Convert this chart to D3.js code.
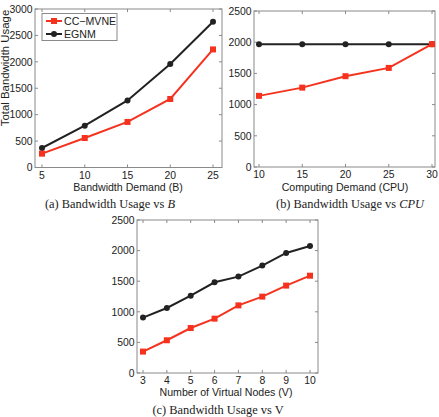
<!DOCTYPE html>
<html><head><meta charset="utf-8">
<script src="https://cdn.jsdelivr.net/npm/d3@7"></script>
<style>body{margin:0;background:#fff}svg{display:block}</style>
</head><body>
<svg id="chart" width="439" height="417"></svg>
<script>
// ---- data ----
const seriesNames = ["CC\u2212MVNE", "EGNM"];
const bwDemand = [5, 10, 15, 20, 25];
const bwCC = [262, 558, 862, 1297, 2235];
const bwEGNM = [369, 792, 1270, 1958, 2760];
const cpuDemand = [10, 15, 20, 25, 30];
const cpuCC = [1140, 1272, 1455, 1588, 1968];
const cpuEGNM = [1968, 1968, 1968, 1968, 1968];
const vNodes = [3, 4, 5, 6, 7, 8, 9, 10];
const vCC = [350, 535, 735, 888, 1105, 1248, 1428, 1590];
const vEGNM = [905, 1062, 1264, 1482, 1575, 1755, 1962, 2075];
const yTicksA = [0, 500, 1000, 1500, 2000, 2500, 3000];
const yTicksBC = [0, 500, 1000, 1500, 2000, 2500];

const RED = "#f5321e", BLACK = "#222";
const svg = d3.select("#chart");
const sans = "'Liberation Sans', Arial, sans-serif";
const serif = "'Liberation Serif', 'DejaVu Serif', serif";
const TICKFS = 10.4, TITLEFS = 10.6, CAPFS = 12.4;

function panel(o) {
  const g = svg.append("g");
  const x = d3.scaleLinear().domain(o.xDom).range(o.xRange);
  const y = d3.scaleLinear().domain(o.yDom).range(o.yRange);
  const [L, R, T, B] = o.box;
  const tk = 3, ax = "#8a8a8a";
  o.xTicks.forEach(v => {
    g.append("line").attr("x1", x(v)).attr("x2", x(v)).attr("y1", B).attr("y2", B - tk).attr("stroke", ax);
    g.append("line").attr("x1", x(v)).attr("x2", x(v)).attr("y1", T).attr("y2", T + tk).attr("stroke", ax);
    g.append("text").attr("x", x(v)).attr("y", B + 11).attr("text-anchor", "middle")
      .attr("font-family", sans).attr("font-size", TICKFS).attr("fill", "#222").text(v);
  });
  o.yTicks.forEach(v => {
    g.append("line").attr("x1", L).attr("x2", L + tk).attr("y1", y(v)).attr("y2", y(v)).attr("stroke", ax);
    g.append("line").attr("x1", R).attr("x2", R - tk).attr("y1", y(v)).attr("y2", y(v)).attr("stroke", ax);
    g.append("text").attr("x", L - 2.5).attr("y", y(v) + 3.7).attr("text-anchor", "end")
      .attr("font-family", sans).attr("font-size", TICKFS).attr("fill", "#222").text(v);
  });
  g.append("rect").attr("x", L).attr("y", T).attr("width", R - L).attr("height", B - T)
    .attr("fill", "none").attr("stroke", ax).attr("stroke-width", 1);

  const line = d3.line().x(d => x(d[0])).y(d => y(d[1]));
  const cc = o.xs.map((v, i) => [v, o.cc[i]]);
  const eg = o.xs.map((v, i) => [v, o.eg[i]]);
  g.append("path").datum(eg).attr("d", line).attr("fill", "none").attr("stroke", BLACK).attr("stroke-width", 2);
  g.append("path").datum(cc).attr("d", line).attr("fill", "none").attr("stroke", RED).attr("stroke-width", 2);
  g.selectAll(null).data(eg).join("circle").attr("cx", d => x(d[0])).attr("cy", d => y(d[1])).attr("r", 3).attr("fill", BLACK);
  g.selectAll(null).data(cc).join("rect").attr("x", d => x(d[0]) - 3).attr("y", d => y(d[1]) - 3)
    .attr("width", 6).attr("height", 6).attr("fill", RED);

  g.append("text").attr("x", o.xTitlePos[0]).attr("y", o.xTitlePos[1]).attr("text-anchor", "middle")
    .attr("font-family", sans).attr("font-size", TITLEFS).attr("fill", "#222").text(o.xTitle);
  const cap = g.append("text").attr("x", o.capPos[0]).attr("y", o.capPos[1]).attr("text-anchor", "middle")
    .attr("font-family", serif).attr("font-size", CAPFS).attr("fill", "#222");
  cap.append("tspan").text(o.cap[0]);
  cap.append("tspan").attr("font-style", "italic").text(o.cap[1]);
  return {g, x, y};
}

const pa = panel({xDom: [5, 25], xRange: [42, 213], yDom: [0, 3000], yRange: [167.5, 9],
  box: [35, 222, 9, 167.5], xTicks: bwDemand, yTicks: yTicksA, xs: bwDemand, cc: bwCC, eg: bwEGNM,
  xTitle: "Bandwidth Demand (B)", xTitlePos: [128, 190.5], cap: ["(a) Bandwidth Usage vs ", "B"], capPos: [110, 208]});
pa.g.append("text").attr("transform", "translate(8.6,68) rotate(-90)").attr("text-anchor", "middle")
  .attr("font-family", sans).attr("font-size", 11.4).attr("fill", "#222").text("Total Bandwidth Usage");

// legend
const lg = pa.g.append("g");
lg.append("rect").attr("x", 42).attr("y", 13.5).attr("width", 75).attr("height", 27).attr("fill", "#fff").attr("stroke", "#8a8a8a");
[[RED, seriesNames[0], 21], [BLACK, seriesNames[1], 34]].forEach(([c, t, yy], i) => {
  lg.append("line").attr("x1", 46).attr("x2", 62).attr("y1", yy).attr("y2", yy).attr("stroke", c).attr("stroke-width", 2);
  if (i === 0) lg.append("rect").attr("x", 51).attr("y", yy - 3).attr("width", 6).attr("height", 6).attr("fill", c);
  else lg.append("circle").attr("cx", 54).attr("cy", yy).attr("r", 3).attr("fill", c);
  lg.append("text").attr("x", 64).attr("y", yy + 3.7).attr("font-family", sans).attr("font-size", TITLEFS).attr("fill", "#222").text(t);
});

panel({xDom: [10, 30], xRange: [259, 432], yDom: [0, 2500], yRange: [167, 11],
  box: [254, 435, 11, 167], xTicks: cpuDemand, yTicks: yTicksBC, xs: cpuDemand, cc: cpuCC, eg: cpuEGNM,
  xTitle: "Computing Demand (CPU)", xTitlePos: [345, 190.5], cap: ["(b) Bandwidth Usage vs ", "CPU"], capPos: [350, 208]});

panel({xDom: [3, 10], xRange: [143, 310], yDom: [0, 2500], yRange: [373, 220],
  box: [137, 318, 220, 373], xTicks: vNodes, yTicks: yTicksBC, xs: vNodes, cc: vCC, eg: vEGNM,
  xTitle: "Number of Virtual Nodes (V)", xTitlePos: [226, 396], cap: ["(c) Bandwidth Usage vs V", ""], capPos: [218, 413.5]});
</script>
</body></html>
